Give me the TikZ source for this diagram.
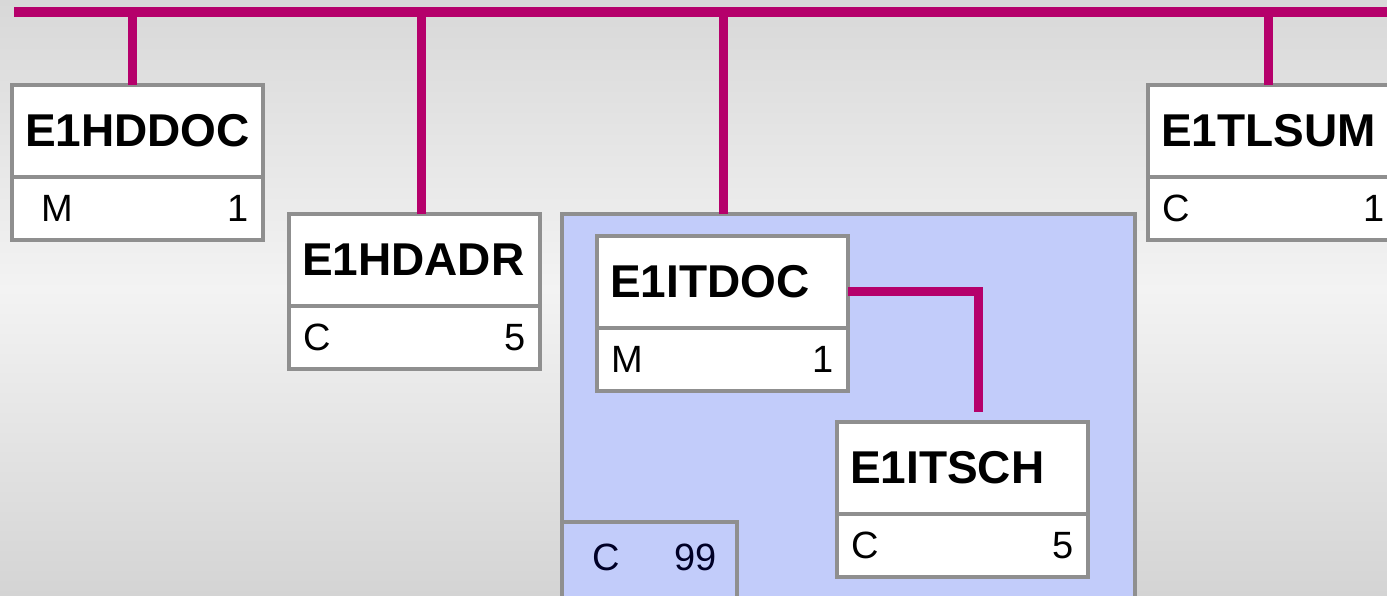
\documentclass[tikz,border=0pt]{standalone}
\usepackage{fontspec}
\setmainfont{Liberation Sans}
\usetikzlibrary{positioning}
\definecolor{barmag}{HTML}{B5006B}
\definecolor{boxgrey}{HTML}{8F8F8F}
\definecolor{grpblue}{HTML}{C2CCFA}
\definecolor{bgtop}{HTML}{D8D8D8}
\definecolor{bgmid}{HTML}{F3F3F3}
\definecolor{bgbot}{HTML}{D4D4D4}
\begin{document}
\begin{tikzpicture}[x=1pt,y=-1pt,
  segname/.style={draw=boxgrey,line width=3.5pt,fill=white,outer sep=0pt,
    minimum height=92pt,inner xsep=13pt,text width=225pt,align=left,anchor=north west,
    font=\fontsize{46}{50}\selectfont\bfseries},
  segrow/.style={draw=boxgrey,line width=3.5pt,fill=white,outer sep=0pt,
    minimum height=63pt,inner xsep=14pt,text width=223pt,
    font=\fontsize{38}{40}\selectfont},
  link/.style={barmag,line width=9pt}]
\useasboundingbox (0,0) rectangle (1387,595);
\clip (0,0) rectangle (1387,595);
\shade[top color=bgtop,bottom color=bgmid] (0pt,0pt) rectangle (1387pt,-290pt);
\shade[top color=bgmid,bottom color=bgbot] (0pt,-289pt) rectangle (1387pt,-595pt);
\node[draw=boxgrey,line width=3.5pt,fill=grpblue,outer sep=0pt,minimum width=573pt,
  minimum height=420pt,anchor=north west] (grp) at (562,214) {};
\node[draw=boxgrey,line width=3.5pt,fill=grpblue,outer sep=0pt,anchor=north west,
  inner xsep=20pt,text width=135pt,minimum height=80pt,text depth=10pt,
  font=\fontsize{38}{40}\selectfont,text=black!85!blue] (grpcnt) at (562,522) {\hspace*{10pt}C\hfill 99};
\node[segname] (hddoc-t) at (12,85) {E1HDDOC};
\node[segrow,below=0pt of hddoc-t] (hddoc-r) {\hspace*{16pt}M\hfill 1};
\node[segname] (hdadr-t) at (289,214) {E1HDADR};
\node[segrow,below=0pt of hdadr-t] (hdadr-r) {C\hfill 5\hspace*{6pt}};
\node[segname] (itdoc-t) at (597,236) {E1ITDOC};
\node[segrow,below=0pt of itdoc-t] (itdoc-r) {M\hfill 1\hspace*{17pt}};
\node[segname] (itsch-t) at (837,422) {E1ITSCH};
\node[segrow,below=0pt of itsch-t] (itsch-r) {C\hfill 5\hspace*{11pt}};
\node[segname] (tlsum-t) at (1148,85) {E1TLSUM};
\node[segrow,below=0pt of tlsum-t] (tlsum-r) {C\hfill 1\hspace*{17pt}};
\coordinate (barL) at (14,12);
\coordinate (barR) at (1395,12);
\coordinate (hddoc-top) at ([xshift=-5.5pt]hddoc-t.north);
\coordinate (hdadr-top) at ([xshift=6.5pt]hdadr-t.north);
\coordinate (grp-top) at ([xshift=-125.5pt]grp.north);
\coordinate (tlsum-top) at ([xshift=-5.5pt]tlsum-t.north);
\draw[link,line width=10pt] (barL) -- (barR);
\draw[link] (hddoc-top) -- (hddoc-top |- barL);
\draw[link] (hdadr-top) -- (hdadr-top |- barL);
\draw[link] (grp-top) -- (grp-top |- barL);
\draw[link] (tlsum-top) -- (tlsum-top |- barL);
\draw[link,shorten >=10pt] ([yshift=-9pt]itdoc-t.east) -| ([xshift=16pt]itsch-t.north);
\end{tikzpicture}
\end{document}
